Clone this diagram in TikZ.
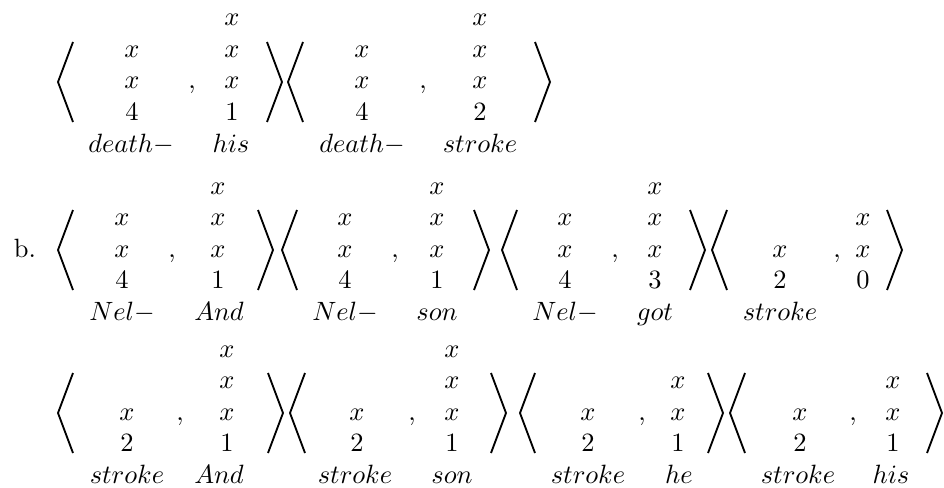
\documentclass[tikz,border=0pt]{standalone}
\usepackage{amsmath}

\begin{document}
\begin{tikzpicture}[x=0.378pt, y=-0.378pt, line width=0.7pt,
  ent/.style={anchor=base, inner sep=0pt},
  brk/.style={line join=miter}]
\useasboundingbox (0,0) rectangle (944,487);

%label
  \node[ent] (lblb) at (25,257) {b.};

%columns x x x n
  \foreach \nm/\cx/\cy/\d in {aR1/232/89/1, aR2/480/89/2,
      bR1/218/257/1, bR2/437/257/1, bR3/655/257/3,
      cR1/227/420/1, cR2/452/420/1}{
    \node[ent] (\nm-1) at (\cx,\cy-63) {$x$};
    \node[ent] (\nm-2) at (\cx,\cy-31.5) {$x$};
    \node[ent] (\nm-3) at (\cx,\cy) {$x$};
    \node[ent] (\nm-4) at (\cx,\cy+31.5) {$\d$};
  }

%columns x x n
  \foreach \nm/\cx/\cy/\d in {aL1/132/89/4, aL2/362/89/4,
      bL1/122/257/4, bL2/345/257/4, bL3/565/257/4, bR4/863/257/0,
      cR3/678/420/1, cR4/893/420/1}{
    \node[ent] (\nm-2) at (\cx,\cy-31.5) {$x$};
    \node[ent] (\nm-3) at (\cx,\cy) {$x$};
    \node[ent] (\nm-4) at (\cx,\cy+31.5) {$\d$};
  }

%columns x n
  \foreach \nm/\cx/\cy in {bL4/780/257,
      cL1/127/420, cL2/357/420, cL3/588/420, cL4/800/420}{
    \node[ent] (\nm-3) at (\cx,\cy) {$x$};
    \node[ent] (\nm-4) at (\cx,\cy+31.5) {$2$};
  }

%commas
  \foreach \nm/\cx/\cy in {aC1/192/89, aC2/423/89,
      bC1/172/257, bC2/395/257, bC3/615/257, bC4/837/257,
      cC1/180/420, cC2/412/420, cC3/642/420, cC4/853/420}{
    \node[ent] (\nm) at (\cx,\cy) {$,$};
  }

%words
  \foreach \nm/\cx/\cy/\w in {aW1/131/89/death-, aW2/231/89/his,
      aW3/362/89/death-, aW4/480/89/stroke,
      bW1/122/257/Nel-, bW2/219/257/And, bW3/345/257/Nel-,
      bW4/437/257/son, bW5/565/257/Nel-, bW6/655/257/got,
      bW7/780/257/stroke,
      cW1/127/420/stroke, cW2/219/420/And, cW3/355/420/stroke,
      cW4/452/420/son, cW5/588/420/stroke, cW6/679/420/he,
      cW7/798/420/stroke, cW8/891/420/his}{
    \node[ent] (\nm) at (\cx,\cy+63) {$\w$};
  }

%brackets
  \foreach \x/\y in {58/89, 288/89, 58/257, 282/257, 502/257, 712/257,
      58/420, 290/420, 520/420, 730/420}{
    \draw[brk] (\x+15,\y-47) -- (\x,\y-7) -- (\x+15,\y+33);
  }
  \foreach \x/\y in {267/89, 535/89, 258/257, 474/257, 690/257, 887/257,
      268/420, 491/420, 708/420, 927/420}{
    \draw[brk] (\x,\y-47) -- (\x+15,\y-7) -- (\x,\y+33);
  }
\end{tikzpicture}
\end{document}
